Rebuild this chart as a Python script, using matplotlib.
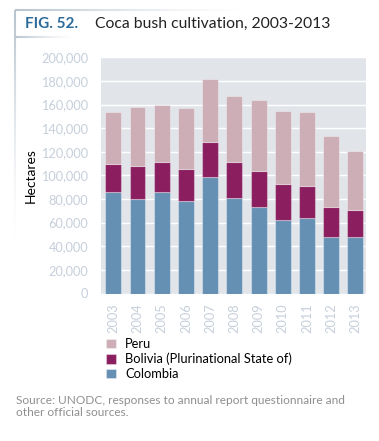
import numpy as np
import matplotlib
matplotlib.use("Agg")
import matplotlib.pyplot as plt
from matplotlib.collections import LineCollection

years = ["2003", "2004", "2005", "2006", "2007", "2008", "2009", "2010", "2011", "2012", "2013"]
colombia = [86000, 80000, 86000, 78000, 99000, 81000, 73000, 62000, 64000, 48000, 48000]
bolivia = [23600, 27700, 25400, 27500, 28900, 30500, 30900, 31000, 27200, 25300, 23000]
peru = [44200, 50300, 48200, 51400, 53700, 56100, 59900, 61200, 62500, 60400, 49800]
yticks = [0, 20000, 40000, 60000, 80000, 100000, 120000, 140000, 160000, 180000, 200000]

C_COL = "#6590b4"
C_BOL = "#8b1e5f"
C_PER = "#cdaeb7"
TICKC = "#c6cfdb"

plt.rcParams['font.family'] = ['Lato', 'DejaVu Sans']

W, H = 379, 441
fig = plt.figure(figsize=(W / 100, H / 100), dpi=100)

def px(x, y):
    return x / W, 1 - y / H

ax_l, ax_r, ax_t, ax_b = 100.7, 366, 57.3, 293.5
ax = fig.add_axes([ax_l / W, 1 - ax_b / H, (ax_r - ax_l) / W, (ax_b - ax_t) / H])
ax.set_facecolor("#e1e5ea")
x = np.arange(len(years))
bw = 0.66
ec = (1, 1, 1, 0.35)
b1 = ax.bar(x, colombia, bw, color=C_COL, edgecolor=ec, linewidth=0.8, label="Colombia", zorder=3)
b2 = ax.bar(x, bolivia, bw, bottom=colombia, color=C_BOL, edgecolor=ec, linewidth=0.8,
            label="Bolivia (Plurinational State of)", zorder=3)
b3 = ax.bar(x, peru, bw, bottom=np.array(colombia) + np.array(bolivia), color=C_PER, edgecolor=ec,
            linewidth=0.8, label="Peru", zorder=3)
ax.set_xlim(-0.52, 10.44)
ax.set_ylim(0, 200000)
ax.set_yticks(yticks)
ax.set_yticklabels([f"{v:,}" for v in yticks])
ax.set_xticks(x)
ax.set_xticklabels(years, rotation=90)
ax.tick_params(length=0, colors=TICKC, labelsize=9.2)
ax.tick_params(axis='y', pad=9)
ax.tick_params(axis='x', pad=7)
ax.grid(axis='y', color='white', linewidth=1.0, zorder=1)
ax.set_axisbelow(True)
for s in ax.spines.values():
    s.set_visible(False)
ax.set_ylabel("Hectares", color="black", fontsize=10)
ax.yaxis.set_label_coords((37 - ax_l) / (ax_r - ax_l), 0.5)

# legend
handles = [b3, b2, b1]
labels = ["Peru", "Bolivia (Plurinational State of)", "Colombia"]
leg = fig.legend(handles, labels, loc="upper left", bbox_to_anchor=px(106, 338), frameon=False,
                 fontsize=9.3, handlelength=0.75, handleheight=0.75, handletextpad=0.75,
                 labelspacing=0.22, borderaxespad=0, borderpad=0)

# source
fig.text(*px(16, 401), "Source: UNODC, responses to annual report questionnaire and",
         fontsize=8.55, color="#8f8f8f", va="center", ha="left")
fig.text(*px(16, 413), "other official sources.",
         fontsize=8.55, color="#8f8f8f", va="center", ha="left")

# title
fig.text(*px(25, 24), "FIG. 52.", fontsize=11, fontweight="bold", color="#2b6a99", va="center", ha="left")
fig.text(*px(95, 24), "Coca bush cultivation, 2003-2013", fontsize=11.3, color="#222222", va="center", ha="left")

# decorative fading frame lines
def fade_line(x0, y0, x1, y1, n=60, color=(0.72, 0.77, 0.81), lw=1.5):
    t = np.linspace(0, 1, n + 1)
    xs = x0 + (x1 - x0) * t
    ys = y0 + (y1 - y0) * t
    segs = [[px(xs[i], ys[i]), px(xs[i + 1], ys[i + 1])] for i in range(n)]
    alphas = (1 - t[:-1]) ** 1.5
    cols = [(*color, a) for a in alphas]
    lc = LineCollection(segs, colors=cols, linewidths=lw, transform=fig.transFigure)
    fig.add_artist(lc)

fade_line(15, 10, 15, 245)
fade_line(15, 10, 250, 10)
fade_line(15, 37, 75, 37)

fig.savefig("out.png", dpi=100)
